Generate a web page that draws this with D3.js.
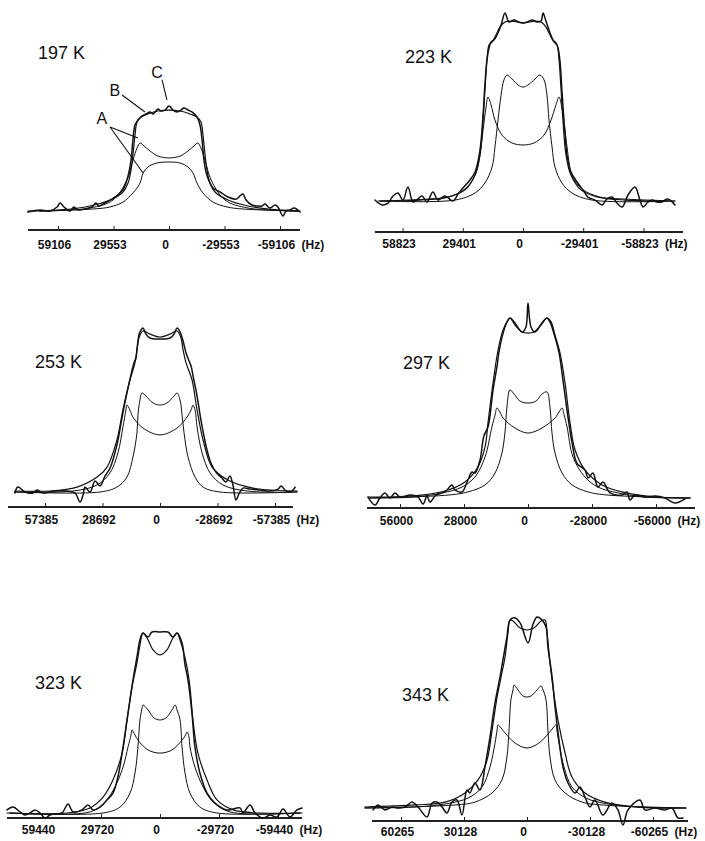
<!DOCTYPE html>
<html>
<head>
<meta charset="utf-8">
<script src="https://cdn.jsdelivr.net/npm/d3@7"></script>
<style>
body { margin: 0; background: #fff; }
svg { display: block; background: #fff; font-family: "Liberation Sans", Arial, Helvetica, sans-serif; }
.temp { font-size: 18px; fill: #111; }
.tag { font-size: 16px; fill: #111; }
.tick text { font-family: "Liberation Sans", Arial, Helvetica, sans-serif; font-size: 12px; font-weight: bold; fill: #111; }
.curve { fill: none; stroke: #111; stroke-linejoin: round; stroke-linecap: round; }
</style>
</head>
<body>
<svg id="chart" width="705" height="841"></svg>
<script>
// each spectrum point is [frequency in kHz, intensity in % of the panel maximum]
// A1 = wide component (horns), A2 = narrow component, B = simulated sum, C = experimental

var ticks197 = [59106, 29553, 0, -29553, -59106];
var a1_197 = [[68.7,0.9],[42.1,3.7],[29.8,11.2],[22.4,29.9],[19.2,48.6],[17.0,59.8],[15.4,64.5],[13.3,61.7],[10.1,57.0],[5.9,52.3],[0,50.5],[-5.9,52.3],[-10.1,57.0],[-13.3,61.7],[-15.4,64.5],[-17.0,59.8],[-19.2,48.6],[-22.4,29.9],[-29.8,11.2],[-42.1,3.7],[-68.7,0.9]];
var a2_197 = [[68.7,0.9],[40.5,2.8],[31.4,4.7],[24.5,9.3],[19.2,17.8],[15.4,27.1],[13.8,36.4],[11.2,42.1],[6.4,45.8],[0,46.7],[-5.9,45.8],[-10.1,42.1],[-12.8,36.4],[-14.9,27.1],[-18.1,17.8],[-23.4,9.3],[-30.9,4.7],[-39.4,2.8],[-68.7,0.9]];
var b_197 = [[75.1,0.9],[58.0,1.9],[42.1,5.6],[31.4,11.2],[24.5,18.7],[21.8,27.1],[20.2,39.3],[19.2,53.3],[18.1,72.0],[17.0,84.1],[14.9,88.8],[11.2,91.6],[5.9,94.4],[0,95.3],[-5.9,94.4],[-11.2,91.6],[-14.9,88.8],[-17.0,84.1],[-18.1,72.0],[-19.2,53.3],[-20.2,39.3],[-21.8,27.1],[-24.5,18.7],[-31.4,11.2],[-42.1,5.6],[-58.0,1.9],[-69.8,0.9]];
var c_197 = [[75.1,0],[68.7,1.9],[63.4,0.9],[59.6,4.7],[58.0,8.4],[55.9,4.7],[52.7,0.9],[50.6,4.7],[48.5,1.9],[44.7,2.8],[41.0,4.7],[38.9,8.4],[37.3,5.6],[34.1,8.4],[30.4,12.1],[26.1,17.8],[24.0,22.4],[22.4,29.9],[21.3,37.4],[20.2,48.6],[19.2,67.3],[18.1,81.3],[16.5,86.0],[14.4,89.7],[12.2,91.6],[10.1,93.5],[8.5,91.6],[5.9,96.3],[4.3,94.4],[2.1,95.3],[0,99.1],[-2.1,95.3],[-4.3,93.5],[-6.4,95.3],[-8.0,97.2],[-10.1,95.3],[-12.2,93.5],[-14.9,88.8],[-16.5,81.3],[-17.6,67.3],[-18.6,48.6],[-19.7,37.4],[-21.3,29.0],[-23.4,22.4],[-27.2,18.7],[-31.4,14.0],[-35.7,12.1],[-37.8,15.0],[-39.4,16.8],[-41.0,11.2],[-44.2,6.5],[-47.4,5.6],[-49.5,5.6],[-51.1,7.5],[-53.8,3.7],[-56.4,6.5],[-58.0,4.7],[-60.7,-3.7],[-62.3,0.9],[-64.4,1.9],[-66.6,3.7],[-69.8,0]];

var ticks223 = [58823, 29401, 0, -29401, -58823];
var a1_223 = [[69.8,0],[45.4,1.1],[36.6,2.1],[28.3,6.4],[23.4,13.8],[21.0,24.5],[19.5,37.8],[18.1,49.5],[17.1,55.3],[15.6,51.1],[13.7,43.1],[10.3,35.1],[5.4,30.9],[0,29.8],[-5.4,30.9],[-10.3,35.1],[-13.7,43.1],[-16.1,51.1],[-17.6,55.3],[-19.0,49.5],[-20.5,37.8],[-22.0,24.5],[-23.9,13.8],[-28.8,6.4],[-37.6,2.1],[-48.3,1.1],[-74.2,0]];
var a2_223 = [[69.8,0],[33.2,0.5],[23.4,4.3],[18.6,9.6],[15.1,18.1],[13.7,28.7],[12.2,43.1],[10.7,56.4],[9.3,64.4],[7.8,67.0],[5.4,64.9],[2.4,61.7],[0,60.6],[-2.4,61.7],[-5.9,64.9],[-8.3,67.0],[-10.3,64.4],[-11.7,56.4],[-12.7,43.1],[-14.2,28.7],[-15.6,18.1],[-19.0,9.6],[-23.9,4.3],[-33.7,0.5],[-74.2,0]];
var b_223 = [[70.8,0],[50.3,0.5],[36.6,2.1],[28.3,5.9],[23.4,13.8],[21.0,24.5],[19.5,43.1],[18.6,59.0],[17.6,75.0],[16.6,83.0],[15.1,84.6],[13.2,88.3],[11.2,92.6],[8.8,95.2],[5.4,95.7],[0,94.7],[-5.9,95.7],[-8.8,95.2],[-11.2,92.6],[-13.2,88.3],[-15.1,84.6],[-16.6,83.0],[-17.6,75.0],[-18.6,59.0],[-19.5,43.1],[-21.0,24.5],[-23.4,13.8],[-28.3,5.9],[-36.6,2.1],[-50.3,0.5],[-70.8,0]];
var c_223 = [[72.3,0.5],[68.9,-2.1],[65.9,-1.1],[63.5,2.7],[61.1,4.3],[58.6,0.5],[56.2,7.4],[53.7,-0.5],[51.3,1.1],[49.3,2.7],[46.9,-0.5],[44.0,4.8],[41.5,0.5],[38.1,2.7],[34.2,0],[31.7,3.7],[29.3,6.9],[25.9,11.2],[23.4,15.4],[21.0,27.1],[19.5,45.7],[18.6,61.7],[17.6,75.0],[16.6,81.4],[15.6,84.6],[14.2,85.6],[12.7,88.3],[10.7,93.6],[8.8,100],[6.8,95.2],[4.4,96.3],[2.0,95.2],[0,94.7],[-2.0,95.2],[-4.4,96.3],[-6.8,95.2],[-8.8,95.7],[-9.8,100],[-11.2,95.7],[-13.2,89.4],[-14.7,85.6],[-16.1,84.0],[-17.1,81.4],[-18.1,73.9],[-19.0,59.0],[-20.0,43.1],[-21.5,24.5],[-23.4,15.4],[-26.4,10.1],[-29.3,5.9],[-31.7,2.1],[-35.2,0.5],[-38.6,-2.1],[-41.0,1.1],[-43.5,2.1],[-45.9,-1.1],[-48.4,-3.2],[-51.3,3.2],[-54.7,7.4],[-57.1,0.5],[-58.6,-3.2],[-61.1,-0.5],[-63.0,0.5],[-65.4,-0.5],[-67.9,-0.5],[-70.3,1.1],[-71.8,0.5],[-74.2,-2.1]];

var ticks253 = [57385, 28692, 0, -28692, -57385];
var a1_253 = [[72.4,0],[43.4,0.6],[31.4,4.3],[25.0,11.6],[21.0,23.8],[18.5,39.6],[17.0,50.0],[16.5,53.0],[15.0,50.0],[13.5,45.7],[8.5,39.0],[0,34.8],[-8.5,39.0],[-13.5,45.7],[-15.5,50.0],[-16.5,53.0],[-17.5,50.0],[-18.5,39.6],[-21.0,23.8],[-25.0,11.6],[-31.4,4.3],[-43.4,0.6],[-68.4,0]];
var a2_253 = [[72.4,0],[29.9,0],[21.5,3.0],[16.5,9.1],[13.5,21.3],[11.5,36.0],[11.0,47.0],[10.0,56.1],[9.0,60.4],[7.0,58.5],[3.5,54.3],[0,53.0],[-3.5,54.3],[-7.0,58.5],[-8.5,60.4],[-10.0,56.1],[-11.0,47.0],[-12.0,36.0],[-14.0,21.3],[-17.5,9.1],[-21.5,3.0],[-29.9,0],[-68.4,0]];
var b_253 = [[72.4,0.6],[54.9,0.6],[41.4,3.0],[31.4,9.1],[26.4,15.2],[21.5,31.7],[18.5,50.0],[15.0,68.3],[12.5,78.7],[11.5,86.6],[10.5,93.9],[8.5,98.2],[5.0,96.3],[0,94.5],[-5.0,96.3],[-8.5,98.2],[-10.5,93.9],[-11.5,86.6],[-13.0,78.7],[-16.0,68.3],[-18.5,50.0],[-21.5,31.7],[-26.0,15.2],[-33.9,7.3],[-46.4,2.4],[-68.4,0.6]];
var c_253 = [[72.4,-0.6],[70.9,3.0],[67.4,0],[63.4,-0.6],[61.4,1.2],[58.4,-0.6],[52.4,0.6],[46.4,0.6],[42.4,-0.6],[39.9,-6.1],[38.4,-1.8],[37.4,3.0],[34.9,0],[32.4,6.7],[29.9,3.7],[27.4,9.8],[24.9,14.6],[21.5,28.7],[19.0,45.1],[16.5,60.4],[14.5,71.3],[13.0,78.7],[12.0,81.7],[11.5,86.6],[10.5,95.7],[9.5,98.8],[8.5,100],[7.0,96.3],[5.0,93.9],[2.5,93.3],[0,93.3],[-2.5,93.3],[-5.0,93.9],[-7.0,96.3],[-8.5,100],[-10.0,97.6],[-11.5,92.1],[-13.0,84.8],[-14.5,79.9],[-15.5,76.8],[-16.5,70.7],[-18.5,58.5],[-20.5,43.3],[-23.0,28.0],[-25.4,17.7],[-27.9,12.2],[-30.9,8.5],[-32.9,6.1],[-34.9,9.8],[-36.4,4.3],[-37.9,-4.9],[-39.4,-1.2],[-41.4,2.4],[-44.9,1.8],[-49.9,1.2],[-54.9,0.6],[-58.9,1.8],[-60.4,3.7],[-62.4,1.2],[-64.9,0],[-66.4,1.2],[-67.4,3.0]];

var ticks297 = [56000, 28000, 0, -28000, -56000];
var a1_297 = [[69.1,0],[49.4,0.5],[37.6,2.6],[28.9,5.6],[23.2,10.8],[18.8,21.0],[15.8,36.4],[14.4,42.6],[13.6,46.2],[12.3,44.1],[10.9,41.0],[5.7,35.9],[0,33.3],[-6.1,35.9],[-11.8,41.0],[-13.6,44.1],[-14.9,46.2],[-15.8,42.6],[-17.1,36.4],[-19.7,21.0],[-24.9,10.8],[-30.6,5.6],[-39.4,2.6],[-51.2,0.5],[-70.9,0]];
var a2_297 = [[69.1,0],[35.0,1.5],[26.3,3.1],[18.8,6.7],[14.4,12.8],[11.4,23.1],[10.1,33.3],[9.2,46.7],[7.9,55.4],[6.1,53.3],[3.5,49.7],[0,48.7],[-3.5,49.7],[-6.1,53.3],[-8.3,54.4],[-9.6,46.7],[-10.5,33.3],[-11.8,23.1],[-14.9,12.8],[-19.3,6.7],[-26.3,3.1],[-35.0,1.5],[-70.9,0]];
var b_297 = [[70.0,0.5],[61.3,0.5],[46.4,1.5],[35.0,4.1],[27.6,8.2],[21.9,15.9],[18.8,26.2],[17.5,38.5],[15.3,59.0],[13.1,75.9],[10.9,86.2],[9.2,90.3],[7.9,92.3],[5.7,88.7],[2.6,85.1],[0,84.6],[-2.6,85.1],[-5.7,88.7],[-8.3,92.3],[-10.1,90.3],[-11.8,83.6],[-14.0,74.4],[-16.2,59.0],[-18.4,38.5],[-20.6,24.6],[-24.9,14.4],[-32.4,6.7],[-41.1,3.1],[-55.6,0.5],[-70.9,0]];
var c_297 = [[70.0,0.5],[66.9,-3.6],[64.8,0],[62.6,2.6],[60.4,0],[58.2,2.6],[56.0,0.5],[51.6,1.5],[48.1,0.5],[45.9,-3.1],[44.2,1.0],[42.9,-2.1],[40.3,1.5],[36.3,3.1],[33.3,6.7],[31.9,4.1],[28.9,3.1],[26.3,9.2],[24.5,13.3],[23.2,12.8],[21.0,19.5],[19.3,31.8],[17.5,36.4],[15.3,55.4],[13.6,67.2],[12.7,74.9],[10.9,84.6],[9.2,90.3],[7.9,92.3],[5.7,89.7],[2.6,85.1],[0.9,87.7],[0,100],[-1.3,87.7],[-3.1,85.1],[-6.1,89.7],[-8.3,92.3],[-9.6,90.3],[-11.8,82.6],[-13.6,74.4],[-15.3,60.5],[-17.5,41.5],[-19.3,28.2],[-21.4,17.9],[-24.9,14.4],[-26.3,10.3],[-28.4,12.8],[-30.6,5.6],[-32.8,8.2],[-35.9,2.6],[-41.1,1.5],[-43.3,3.1],[-44.6,-1.0],[-46.8,1.5],[-51.2,0.5],[-55.6,1.0],[-59.9,0],[-64.3,-2.6],[-68.7,-0.5]];

var ticks323 = [59440, 29720, 0, -29720, -59440];
var a1_323 = [[75.6,0],[35.3,0.6],[27.7,6.1],[22.7,14.4],[18.6,25.4],[16.1,36.5],[14.6,43.1],[14.1,45.9],[12.6,43.1],[11.1,40.3],[6.0,34.8],[0,33.1],[-6.0,34.8],[-11.1,40.3],[-12.6,42.5],[-13.6,44.8],[-14.6,42.0],[-15.1,36.5],[-17.6,25.4],[-21.7,14.4],[-26.7,6.1],[-35.3,0.6],[-70.5,0]];
var a2_323 = [[75.6,0],[28.7,0],[20.1,3.3],[15.1,11.0],[12.6,22.1],[11.1,36.5],[10.1,51.4],[9.1,57.5],[8.6,59.7],[6.0,56.9],[3.0,52.5],[0,51.4],[-3.0,52.5],[-6.0,56.9],[-7.6,59.7],[-8.6,56.9],[-10.1,51.4],[-11.1,36.5],[-12.6,22.1],[-15.1,11.0],[-20.1,3.3],[-28.7,0],[-70.5,0]];
var b_323 = [[77.1,0],[46.8,0],[35.3,2.8],[28.7,8.8],[23.7,18.2],[19.1,33.1],[16.6,51.4],[14.1,69.6],[11.6,82.9],[10.1,92.8],[8.6,99.4],[6.5,96.7],[3.5,90.1],[0,87.3],[-3.5,90.1],[-6.5,96.7],[-8.6,99.4],[-10.1,95.6],[-11.6,90.1],[-13.6,80.7],[-15.1,69.6],[-16.6,51.4],[-19.1,33.1],[-23.7,18.2],[-28.7,7.2],[-36.8,1.7],[-50.4,0],[-71.5,0]];
var c_323 = [[77.1,1.7],[74.0,3.3],[70.5,0.6],[68.0,-1.1],[65.5,0],[63.0,1.7],[60.4,0],[57.9,-2.8],[55.4,-1.1],[52.9,-0.6],[49.4,0],[46.3,5.0],[43.8,0.6],[39.3,1.7],[36.3,4.4],[33.7,1.7],[30.2,3.3],[26.7,7.2],[23.7,11.0],[21.2,19.9],[18.6,36.5],[16.1,55.2],[13.6,73.5],[11.6,86.2],[10.1,95.6],[8.6,99.4],[6.0,97.2],[4.0,100],[0,100],[-4.0,100],[-6.5,97.2],[-8.6,99.4],[-11.1,93.9],[-12.6,81.8],[-14.1,73.5],[-16.1,55.2],[-17.6,36.5],[-20.1,22.1],[-23.7,11.0],[-27.7,5.5],[-33.7,1.7],[-40.3,2.8],[-41.8,0],[-45.3,4.4],[-47.9,0],[-51.9,-2.8],[-55.4,-1.1],[-58.9,-2.2],[-62.0,2.2],[-65.5,-2.2],[-69.0,1.7],[-71.5,2.8]];

var ticks343 = [60265, 30128, 0, -30128, -60265];
var a1_343 = [[77.5,0],[53.6,0.5],[39.2,2.1],[28.2,5.2],[21.5,11.0],[17.7,21.5],[15.3,34.0],[14.3,40.8],[13.9,43.5],[12.4,41.9],[10.5,39.3],[5.7,34.0],[0,31.4],[-5.7,34.0],[-10.5,39.3],[-12.4,41.9],[-13.9,43.5],[-14.3,40.8],[-15.3,34.0],[-17.7,21.5],[-21.5,11.0],[-28.2,5.2],[-38.7,2.1],[-53.1,0.5],[-76.0,0]];
var a2_343 = [[77.5,0],[34.4,1.6],[24.9,3.1],[16.7,7.9],[12.0,14.7],[9.6,26.7],[8.6,40.8],[7.7,56.5],[6.7,61.8],[6.2,64.4],[4.3,61.8],[1.9,58.6],[0,58.1],[-1.9,58.6],[-4.8,61.8],[-6.7,63.9],[-7.7,61.8],[-9.1,56.5],[-10.0,40.8],[-11.0,26.7],[-13.4,14.7],[-18.2,7.9],[-26.3,3.1],[-35.9,1.6],[-76.0,0]];
var b_343 = [[77.5,0.5],[53.6,1.6],[39.2,3.1],[29.6,7.9],[23.4,14.7],[19.1,25.1],[16.7,40.8],[14.3,58.1],[12.0,70.7],[10.5,79.1],[9.1,91.6],[8.1,98.4],[6.7,97.9],[3.3,94.2],[0,93.2],[-3.3,94.2],[-6.7,97.9],[-8.6,98.4],[-9.6,91.6],[-11.0,75.9],[-12.4,63.4],[-14.8,46.1],[-18.2,28.8],[-21.5,16.2],[-27.7,7.9],[-37.3,3.1],[-53.1,0.5],[-76.0,0]];
var c_343 = [[73.6,-1.0],[71.3,1.6],[67.9,-1.0],[64.6,0.5],[61.7,0],[58.3,0.5],[55.0,3.1],[52.1,0.5],[47.8,-4.7],[45.4,2.6],[43.0,3.1],[40.6,0.5],[38.3,-2.6],[35.9,3.1],[33.5,4.2],[31.1,-3.7],[28.7,9.4],[27.3,7.9],[24.9,13.1],[22.5,9.4],[20.1,21.5],[17.7,37.2],[15.3,55.0],[12.9,68.6],[11.5,77.5],[9.6,89.5],[8.1,98.4],[5.7,99.5],[3.3,96.9],[-0.5,86.4],[-2.9,96.3],[-4.8,100],[-7.2,98.4],[-9.1,94.8],[-10.0,84.3],[-12.0,68.6],[-13.4,52.9],[-15.3,35.6],[-17.2,21.5],[-19.6,13.1],[-23.0,7.9],[-25.3,11.0],[-27.7,5.8],[-30.1,0.5],[-32.5,4.2],[-36.3,-3.7],[-40.6,2.6],[-43.5,-1.0],[-45.9,-8.9],[-48.3,-1.0],[-54.0,4.2],[-56.4,-1.0],[-61.2,0],[-66.0,-1.0],[-69.3,0],[-72.2,-5.2],[-74.6,-5.2]];

// layout of each panel on the page (pixels)
var panels = [
  {temp: "197 K", ticks: ticks197, a1: a1_197, a2: a2_197, b: b_197, c: c_197, cx: 169, step: 55.5, base: 212, top: 105, axisY: 230, axisX: [28, 300], pad: 10, tx: 38, ty: 59},
  {temp: "223 K", ticks: ticks223, a1: a1_223, a2: a2_223, b: b_223, c: c_223, cx: 523, step: 60.2, base: 201, top: 13, axisY: 232, axisX: [375, 683], pad: 7, tx: 405, ty: 63},
  {temp: "253 K", ticks: ticks253, a1: a1_253, a2: a2_253, b: b_253, c: c_253, cx: 160, step: 57.5, base: 492, top: 328, axisY: 507, axisX: [8, 293], pad: 8, tx: 35, ty: 368},
  {temp: "297 K", ticks: ticks297, a1: a1_297, a2: a2_297, b: b_297, c: c_297, cx: 528, step: 64, base: 498, top: 303, axisY: 508, axisX: [367, 695], pad: 8, tx: 403, ty: 369},
  {temp: "323 K", ticks: ticks323, a1: a1_323, a2: a2_323, b: b_323, c: c_323, cx: 160, step: 59, base: 813, top: 632, axisY: 818, axisX: [7, 302], pad: 7, tx: 35, ty: 689},
  {temp: "343 K", ticks: ticks343, a1: a1_343, a2: a2_343, b: b_343, c: c_343, cx: 527, step: 63, base: 808, top: 617, axisY: 821, axisX: [372, 688], pad: 6, tx: 402, ty: 701}
];

var svg = d3.select("#chart");

panels.forEach(function(p, i) {
  var v = p.ticks[1];
  var x = d3.scaleLinear().domain([v, -v]).range([p.cx - p.step, p.cx + p.step]);
  var y = d3.scaleLinear().domain([0, 100]).range([p.base, p.top]);
  var line = d3.line()
    .x(function(d) { return x(d[0] * 1000); })
    .y(function(d) { return y(d[1]); })
    .curve(d3.curveCatmullRom.alpha(0.5));

  var g = svg.append('g').attr('class', 'panel');

  // axis: thick scanned line, small ticks pointing up
  var axis = g.append('g').attr('transform', 'translate(0,' + p.axisY + ')')
    .call(d3.axisBottom(x).tickValues(p.ticks).tickFormat(function(d) { return String(d); }).tickSize(-4).tickPadding(p.pad));
  axis.attr('font-family', null).attr('font-size', null);
  axis.select('.domain').remove();
  axis.insert('line', ':first-child').attr('x1', p.axisX[0]).attr('x2', p.axisX[1])
    .attr('stroke', '#222').attr('stroke-width', 2);
  axis.selectAll('.tick line').attr('stroke', '#222');
  axis.selectAll('.tick text').attr('dx', -4);

  // last label carries the unit; keep its number centred on the tick
  var last = axis.selectAll('.tick').filter(function(d) { return d === p.ticks[4]; }).select('text');
  last.attr('text-anchor', 'start').attr('x', -4).attr('dx', '-1.56em');
  last.append('tspan').attr('dx', 3).text(' (Hz)');

  g.append('path').attr('class', 'curve').attr('d', line(p.a1)).attr('stroke-width', 1);
  g.append('path').attr('class', 'curve').attr('d', line(p.a2)).attr('stroke-width', 1);
  g.append('path').attr('class', 'curve').attr('d', line(p.b)).attr('stroke-width', 1.2);
  g.append('path').attr('class', 'curve').attr('d', line(p.c)).attr('stroke-width', 1.5);

  g.append('text').attr('class', 'temp').attr('x', p.tx).attr('y', p.ty).text(p.temp);

  // curve labels only on the first panel
  if (i === 0) {
    var tags = [
      {t: 'C', at: [6.4, 125], lines: [[[3.7, 123.4], [1.1, 104.7]]]},
      {t: 'B', at: [28.8, 108.4], lines: [[[25.0, 109.3], [12.8, 93.5]]]},
      {t: 'A', at: [35.7, 82.2], lines: [[[31.4, 79.4], [16.5, 69.2]], [[31.4, 79.4], [13.8, 36.4]]]}
    ];
    tags.forEach(function(a) {
      g.append('text').attr('class', 'tag').attr('text-anchor', 'middle')
        .attr('x', x(a.at[0] * 1000)).attr('y', y(a.at[1])).text(a.t);
      a.lines.forEach(function(l) {
        g.append('line')
          .attr('x1', x(l[0][0] * 1000)).attr('y1', y(l[0][1]))
          .attr('x2', x(l[1][0] * 1000)).attr('y2', y(l[1][1]))
          .attr('stroke', '#111').attr('stroke-width', 1.1);
      });
    });
  }
});
</script>
</body>
</html>
